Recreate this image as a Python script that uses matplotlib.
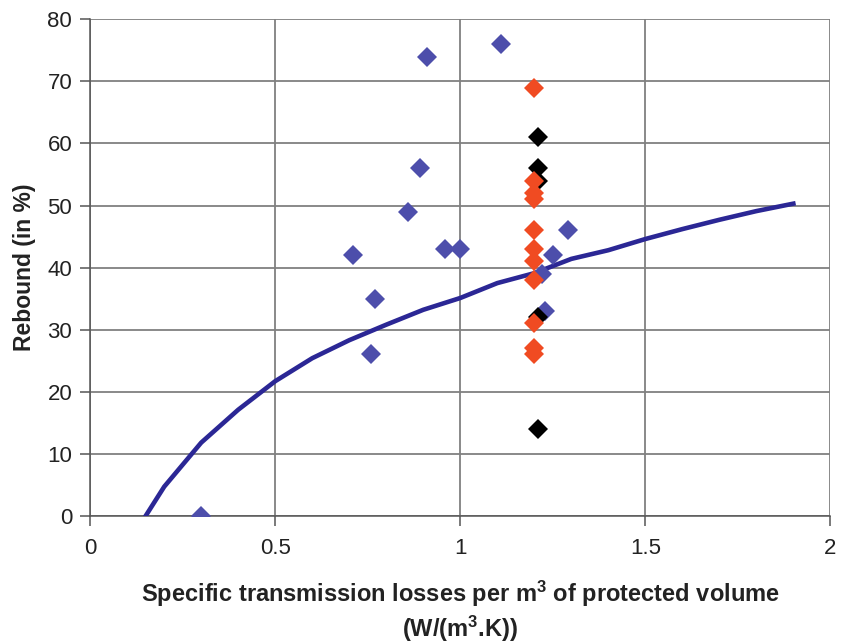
import matplotlib
matplotlib.use('Agg')
import matplotlib.pyplot as plt

plt.rcParams['font.family'] = ['Liberation Sans', 'DejaVu Sans']
plt.rcParams['mathtext.default'] = 'regular'

# fitted curve
curve_x = [0.15, 0.2, 0.3, 0.4, 0.5, 0.6, 0.7, 0.8, 0.9, 1.0, 1.1, 1.2,
           1.3, 1.4, 1.5, 1.6, 1.7, 1.8, 1.9]
curve_y = [0, 4.7, 11.8, 17.1, 21.7, 25.4, 28.3, 30.8, 33.2, 35.1, 37.5,
           39.1, 41.4, 42.8, 44.6, 46.2, 47.7, 49.1, 50.3]

# measured points
blue_x = [0.91, 1.11, 0.89, 0.86, 0.71, 0.96, 1.0, 0.77, 0.76, 1.29, 1.25, 1.23, 0.30, 1.22]
blue_y = [74, 76, 56, 49, 42, 43, 43, 35, 26, 46, 42, 33, 0, 39]

black_x = [1.21, 1.21, 1.21, 1.21, 1.21]
black_y = [61, 56, 54, 32, 14]

orange_x = [1.2] * 11
orange_y = [69, 54, 52, 51, 46, 43, 41, 38, 31, 27, 26]

fig = plt.figure(figsize=(8.43, 6.44), dpi=100)
ax = fig.add_axes([0.107, 0.199, 0.878, 0.771])

ax.grid(True, color='#808080', linewidth=1.3)
ax.set_axisbelow(True)

ax.plot(curve_x, curve_y, color='#2b2795', linewidth=3.3, zorder=3)
ax.plot(blue_x, blue_y, 'D', color='#4d4eab', markersize=10.5, markeredgewidth=0, zorder=4)
ax.plot(black_x, black_y, 'D', color='#000000', markersize=10.5, markeredgewidth=0, zorder=5)
ax.plot(orange_x, orange_y, 'D', color='#f04b22', markersize=10.5, markeredgewidth=0, zorder=6)

ax.set_xlim(0, 2)
ax.set_ylim(0, 80)
ax.set_xticks([0, 0.5, 1, 1.5, 2])
ax.set_xticklabels(['0', '0.5', '1', '1.5', '2'])
ax.set_yticks(range(0, 81, 10))

for s in ['top', 'right']:
    ax.spines[s].set_visible(False)
for s in ['left', 'bottom']:
    ax.spines[s].set_color('#555555')
    ax.spines[s].set_linewidth(1.1)
ax.tick_params(axis='both', direction='out', length=7, width=1.1, color='#555555',
               labelsize=16, labelcolor='#222222')
ax.tick_params(axis='x', pad=9)
ax.tick_params(axis='y', pad=6)

ax.set_ylabel('Rebound (in %)', fontsize=16.5, fontweight='bold', color='#222222', labelpad=8)
ax.set_xlabel('Specific transmission losses per m$^3$ of protected volume\n(W/(m$^3$.K))',
              fontsize=17, fontweight='bold', color='#222222', labelpad=14, linespacing=1.2)

plt.savefig('out.png', dpi=100)
